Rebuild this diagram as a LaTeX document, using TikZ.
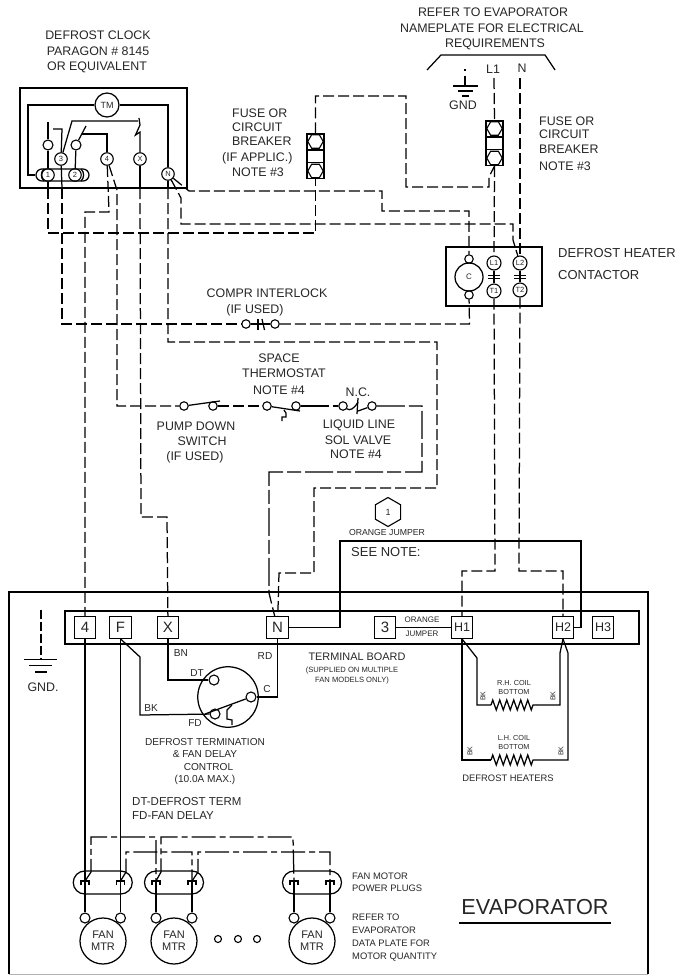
\documentclass[tikz,border=0pt]{standalone}
\usepackage{fontspec}
\setmainfont{Liberation Sans}
\usetikzlibrary{calc,shapes.geometric,decorations.pathmorphing}

\tikzset{
	wire/.style={line width=1.25pt, black},
	dwire/.style={line width=1.25pt, black, dash pattern=on 11pt off 4pt},
	lwire/.style={line width=1.25pt, black, dash pattern=on 24pt off 4pt on 6pt off 4pt},
	lbl/.style={inner sep=0pt, text=black!85, font=\fontsize{12.4}{15.5}\selectfont},
	lblm/.style={inner sep=0pt, text=black!85, font=\fontsize{10.1}{12.5}\selectfont},
	lbls/.style={inner sep=0pt, text=black!85, font=\fontsize{7.6}{10}\selectfont},
	term/.style={circle, draw, line width=1.1pt, minimum size=12.5pt, inner sep=0pt, text=black!85, font=\fontsize{7.5}{8}\selectfont},
	cont/.style={circle, draw, line width=1.1pt, minimum size=8.5pt, inner sep=0pt},
	tbox/.style={draw, line width=1.3pt, minimum size=21.5pt, inner sep=0pt, text=black!85},
	plug/.style={draw, line width=1.25pt, minimum width=59pt, minimum height=23pt, rounded corners=11.5pt},
	hexa/.style={regular polygon, regular polygon sides=6, draw, line width=1.1pt, minimum size=15.5pt, inner sep=0pt},
	coil/.style={line width=1.25pt, decorate, decoration={zigzag, segment length=7pt, amplitude=5pt}},
}

\begin{document}
\begin{tikzpicture}[x=1pt,y=-1pt]
		\useasboundingbox (0,0) rectangle (690,975);
		
		\foreach \txt/\x/\y [count=\i] in {DEFROST CLOCK/98/35, PARAGON \# 8145/98/51, OR EQUIVALENT/97/67, REFER TO EVAPORATOR/493/12, NAMEPLATE FOR ELECTRICAL/492/28, REQUIREMENTS/495/44, L1/493/69, N/522/68, GND/463/105, COMPR INTERLOCK/267/293, (IF USED)/255/310, SPACE/279/358, THERMOSTAT/284/373, NOTE \#4/279/390, N.C./358/392, PUMP DOWN/196/426, SWITCH/202/441, (IF USED)/195/457, LIQUID LINE/359/425, SOL VALVE/358/440, NOTE \#4/356/454, GND./43/687} {
			\node (lc\i) [lbl] at (\x,\y) {\txt};
		}
		\foreach \txt/\x/\y [count=\i] in {FUSE OR/232/113, CIRCUIT/232/127, BREAKER/232/141, (IF APPLIC.)/222/158, NOTE \#3/232/172, FUSE OR/539/121, CIRCUIT/539/134, BREAKER/539/149, NOTE \#3/539/166} {
			\node (lf\i) [lbl, anchor=west] at (\x,\y) {\txt};
		}
		\node (lheat) [lbl, anchor=west, font=\fontsize{13}{22}\selectfont, align=left] at (558,264) {DEFROST HEATER\\CONTACTOR};
		\node (lnote) [lbl, anchor=west, font=\fontsize{13}{15}\selectfont] at (351,552) {SEE NOTE:};
		\node (lterm) [lbl, font=\fontsize{10.9}{13}\selectfont] at (357,657) {TERMINAL BOARD};
		\node (lsup) [lbls, align=center] at (352,676) {(SUPPLIED ON MULTIPLE\\FAN MODELS ONLY)};
		\node (ljump) [lbls, font=\fontsize{8.7}{10}\selectfont] at (387,532) {ORANGE JUMPER};
		\node (lora) [lbls, font=\fontsize{8}{10}\selectfont] at (422,620) {ORANGE};
		\node (ljmp) [lbls, font=\fontsize{8}{10}\selectfont] at (422,634) {JUMPER};
		\node (ldft) [lblm, align=center] at (205,761.5) {DEFROST TERMINATION\\\& FAN DELAY\\\hspace*{7pt}CONTROL\\(10.0A MAX.)};
		\node (ldef) [lbl, anchor=west, font=\fontsize{11.5}{14}\selectfont, align=left] at (132,808) {DT-DEFROST TERM\\FD-FAN DELAY};
		\node (lplg) [lblm, anchor=west, font=\fontsize{9.4}{12}\selectfont, align=left] at (352,882) {FAN MOTOR\\POWER PLUGS};
		\node (lref) [lblm, anchor=west, font=\fontsize{9.4}{13}\selectfont, align=left] at (352,937.5) {REFER TO\\EVAPORATOR\\DATA PLATE FOR\\MOTOR QUANTITY};
		\node (levap) [lbl, font=\fontsize{21.7}{24}\selectfont] at (535,907) {EVAPORATOR};
		\node (lhtr) [lblm, font=\fontsize{9.4}{12}\selectfont] at (508,778) {DEFROST HEATERS};
		\node (lrh) [lbls, font=\fontsize{7.3}{9}\selectfont, align=center] at (514,687.5) {R.H. COIL\\BOTTOM};
		\node (llh) [lbls, font=\fontsize{7.3}{9}\selectfont, align=center] at (514,742.5) {L.H. COIL\\BOTTOM};
		\foreach \txt/\x/\y [count=\i] in {BK/483/696, BK/553/696, BK/470/751, BK/561/751} {
			\node (lbk\i) [lbls, font=\fontsize{7}{8}\selectfont, rotate=90] at (\x,\y) {\txt};
		}
		\foreach \txt/\x/\y [count=\i] in {BN/181/653, RD/265/656, DT/197/673, C/267/689, BK/151/708, FD/195/723} {
			\node (lw\i) [lblm] at (\x,\y) {\txt};
		}
		\draw[line width=1.5pt, black] (459,923) -- (611,923);
		
		\draw[line width=1.3pt, black] (20,88) rectangle (187,188);
		\node (tm) [circle, draw, line width=1.25pt, minimum size=24pt, inner sep=0pt, text=black!85, font=\fontsize{9}{10}\selectfont] at (107,105) {TM};
		\node (cplug) [draw, line width=1.25pt, minimum width=53pt, minimum height=12pt, rounded corners=6pt] at (62.5,175) {};
		\foreach \n/\x/\y in {1/48/175, 2/75/175, 3/61/159, 4/107/159, X/140/159, N/168/174} {
			\node (c\n) [term] at (\x,\y) {\n};
		}
		\node (sa) [cont, minimum size=10pt] at (48,145) {};
		\node (sb) [cont, minimum size=10pt] at (76,145) {};
		\coordinate (tpa) at (28,105);
		\coordinate (tpb) at (168,105);
		\draw[wire] (tm) -- (tpa) -- (28,175) -- (cplug.west);
		\draw[wire] (tm) -- (tpb) -- (cN);
		\draw[wire] (44,169) .. controls (40.5,172) and (40.5,178) .. (44,181);
		\draw[wire] (81,169) .. controls (84.5,172) and (84.5,178) .. (81,181);
		\draw[wire] (48,122) -- (sa);
		\draw[wire] (sa) -- (c1);
		\draw[wire] (sb) -- (c2);
		\draw[wire] (53,129) -- (62,129) -- (c3);
		\draw[wire] (c3) -- (72,121) -- (138,121);
		\draw[wire] (139,118) -- (140,125) -- (135.5,135) -- (140,132) -- (cX);
		\draw[wire] (sb) -- (86,126);
		\draw[wire] (82,134) -- (107,134) -- (c4);
		\foreach \a/\x in {c1/48, c3/62, cX/140, cN/168} {
			\coordinate (o\a) at (\x,188);
			\draw[wire] (\a) -- (o\a);
		}
		
		\foreach \f/\x/\y in {fusea/315.5/134, fuseb/494.5/121} {
			\node (\f) [draw, line width=1.3pt, minimum width=17pt, minimum height=44.5pt, inner sep=0pt] at (\x,\y+22.25) {};
			\node (\f t) [hexa] at (\x,\y+7.5) {};
			\node (\f b) [hexa] at (\x,\y+37) {};
			\node (\f m) [draw, line width=1.3pt, minimum width=17pt, minimum height=12.5pt, inner sep=0pt] at (\x,\y+22.25) {};
		}
		
		\coordinate (brka) at (427,70);
		\coordinate (brkb) at (555,70);
		\draw[wire] (brka) -- (441,55) -- (545,55) -- (brkb);
		\coordinate (gnda) at (465,69);
		\coordinate (gndb) at (465,86);
		\draw[wire, dash pattern=on 1.5pt off 5pt on 12pt] (gnda) -- (gndb);
		\draw[wire] (453,86) -- (478,86);
		\draw[wire] (458,91) -- (473,91);
		\draw[wire] (462,96) -- (469,96);
		
		\coordinate (supa) at (494,78);
		\coordinate (supb) at (520,78);
		
		\draw[line width=1.3pt, black] (446,247) rectangle (542,306);
		\node (cc) [circle, draw, line width=1.25pt, minimum size=28pt, inner sep=0pt, text=black!85, font=\fontsize{8}{9}\selectfont] at (469,277) {C};
		\node (cct) [cont] at (469,259) {};
		\node (ccb) [cont] at (469,295) {};
		\foreach \n/\x/\y in {L1/494/263, T1/494/291, L2/520/263, T2/520/290} {
			\node (k\n) [term, minimum size=14pt] at (\x,\y) {\n};
		}
		\draw[wire] (kL1) -- (kT1);
		\draw[wire] (kL2) -- (kT2);
		\foreach \x in {494,520} {
			\draw[wire] (\x-6,275.5) -- (\x+6,275.5);
			\draw[wire] (\x-6,278.5) -- (\x+6,278.5);
		}
		
		\node (ia) [cont] at (246,324) {};
		\node (ib) [cont] at (275,324) {};
		\draw[wire] (ia) -- (ib);
		\draw[wire] (258,319) -- (258,330);
		\draw[wire] (262,319) -- (264.5,330);
		
		\node (pa) [cont] at (184,406) {};
		\node (pb) [cont] at (213,406) {};
		\node (ta) [cont] at (267,406) {};
		\node (tb) [cont] at (296,406) {};
		\node (na) [cont] at (343,406) {};
		\node (nb) [cont] at (372,406) {};
		\coordinate (paend) at (220,401);
		\coordinate (taend) at (300,411);
		\draw[wire] (pa) -- (paend);
		\draw[wire] (ta) -- (taend);
		\draw[wire] (284,410) -- (286,413) -- (286,417) -- (282,417) -- (282,421);
		\draw[wire] (na) .. controls (350,411) and (354,409) .. (358,402);
		\draw[wire] (358,398) -- (357,414);
		\draw[wire] (358,411) -- (nb);
		
		\draw[line width=1.3pt, black] (9,974) -- (9,592) -- (648,592) -- (648,974);
		\draw[line width=1pt, black!30] (9,974) -- (648,974);
		\draw[line width=1.3pt, black] (65,611) rectangle (639,644);
		\foreach \n/\x in {4/85, F/120.5, X/168, N/277.5, 3/385} {
			\node (t\n) [tbox, font=\fontsize{15}{16}\selectfont] at (\x,627.5) {\n};
		}
		\foreach \n/\x in {H1/462, H2/563, H3/603} {
			\node (t\n) [tbox, font=\fontsize{12.5}{14}\selectfont] at (\x,627.5) {\n};
		}
		\node (hexnote) [regular polygon, regular polygon sides=6, shape border rotate=90, draw, line width=1.1pt, minimum size=29pt, inner sep=0pt, text=black!85, font=\fontsize{9}{10}\selectfont] at (388,512) {1};
		
		\coordinate (gnde) at (41,610);
		\coordinate (gndf) at (41,659.5);
		\draw[wire, dash pattern=on 9pt off 3pt] (gnde) -- (gndf);
		\draw[wire] (24,659.5) -- (57,659.5);
		\draw[wire] (29,665.5) -- (52,665.5);
		\draw[wire] (35,672) -- (47,672);
		
		\draw[dwire] (oc1) -- (48,233) -- (315.5,233) -- (fusea.south);
		\draw[dwire] (fusea.north) -- (315.5,96) -- (406,96) -- (406,187) -- (489,187) -- (489,177) -- (fuseb.south);
		\draw[dwire] (supa) -- (fuseb.north);
		\draw[dwire] (fuseb.south) -- (kL1);
		\draw[dwire] (supb) -- (kL2);
		\draw[dwire] (oc3) -- (62,324) -- (ia);
		\draw[dwire] (ib) -- (469.5,324) -- (ccb);
		\draw[dwire] (c4) -- (109,212) -- (85,212) -- (t4);
		\draw[dwire] (c4) -- (117,190) -- (117,406) -- (pa);
		\draw[dwire] (ocX) -- (141,517) -- (167,517) -- (tX);
		\draw[dwire] (cN) -- (189,191) -- (382,191) -- (382,211) -- (469,211) -- (cct);
		\draw[dwire] (cN) -- (181,198) -- (181,224) -- (513,224) -- (513,240) -- (kL2);
		\draw[dwire] (ocN) -- (168,342) -- (437,342) -- (437,488) -- (314,488) -- (314,573) -- (279,573) -- (tN);
		\draw[dwire] (pb) -- (ta);
		\draw[wire, dash pattern=on 28pt off 4pt on 10pt] (tb) -- (na);
		\draw[wire, dash pattern=on 28pt off 4pt on 14pt off 4pt] (nb) -- (422,406) -- (422,472) -- (269,472) -- (269,593) -- (tN);
		\draw[dwire] (kT1) -- (495,571) -- (462,571) -- (tH1);
		\draw[dwire] (kT2) -- (519,571) -- (563,571) -- (tH2);
		
		\draw[wire] (tN) -- (340,627.5) -- (340,541) -- (581,541) -- (581,627.5) -- (tH2);
		\draw[wire] (t3) -- (tH1);
		
		\coordinate (rha) at (491,705);
		\coordinate (rhb) at (536,705);
		\coordinate (lha) at (491,760);
		\coordinate (lhb) at (536,760);
		\draw[wire] (tH1.south) -- (477,658) -- (477,705) -- (rha);
		\draw[wire] (rhb) -- (560,705) -- (560,653) -- (tH2.south);
		\draw[wire] (tH1.south) -- (462,760) -- (lha);
		\draw[wire] (lhb) -- (568,760) -- (568,653) -- (tH2.south);
		\draw[coil] (rha) -- (rhb);
		\draw[coil] (lha) -- (lhb);
		
		\node (dc) [circle, draw, line width=1.25pt, minimum size=60.5pt, inner sep=0pt] at (228,697) {};
		\node (ddt) [cont, minimum size=10pt] at (214,680) {};
		\node (dcc) [cont, minimum size=10pt] at (251,697) {};
		\node (dfd) [cont, minimum size=10pt] at (215,714) {};
		\draw[wire] (tX) -- (168,680) -- (ddt);
		\draw[wire] (tN) -- (277.5,697) -- (dcc);
		\draw[wire] (tF.south) -- (140,657) -- (140,715) -- (dfd);
		\draw[wire] (dcc) -- (205,714);
		\draw[wire] (232,705) -- (227,710) -- (227,719) -- (232,720) -- (232,725);
		
		\foreach \n/\x/\l/\r in {1/103/85/120.5, 2/174/156/192, 3/312/294/330} {
			\node (plug\n) [plug] at ($(\l,882.5)!0.5!(\r,882.5)$) {};
			\node (fan\n) [circle, draw, line width=1.25pt, minimum size=46pt, inner sep=0pt, align=center, text=black!85, font=\fontsize{11}{12}\selectfont] at (\x,941) {FAN\\MTR};
			\node (fl\n) [cont, minimum size=10pt] at (\l,918) {};
			\node (fr\n) [cont, minimum size=10pt] at (\r,918) {};
			\coordinate (pl\n) at (\l,881);
			\coordinate (pr\n) at (\r,881);
			\draw[wire] (\l-4,885) -- (\l-4,881) -- (\l+4,881) -- (\l+4,885);
			\draw[wire] (\r-4,885) -- (\r-4,881) -- (\r+4,881) -- (\r+4,885);
			\draw[wire] (pl\n) -- (fl\n);
			\draw[wire] (pr\n) -- (fr\n);
		}
		\draw[wire] (t4) -- (pl1);
		\draw[wire] (tF) -- (pr1);
		\foreach \x/\i in {218/1, 238/2, 257/3} {
			\node (dot\i) [cont, minimum size=7pt] at (\x,939) {};
		}
		\draw[lwire] (pl1) -- (91,872) -- (91,837) -- (156,837) -- (pl2);
		\draw[lwire] (pl2) -- (161,872) -- (161,837) -- (293,837) -- (294,881);
		\draw[lwire] (pr1) -- (126,872) -- (126,852) -- (192,852) -- (pr2);
		\draw[lwire] (pr2) -- (198,872) -- (198,852) -- (330,852) -- (pr3);
		
	\end{tikzpicture}
\end{document}
